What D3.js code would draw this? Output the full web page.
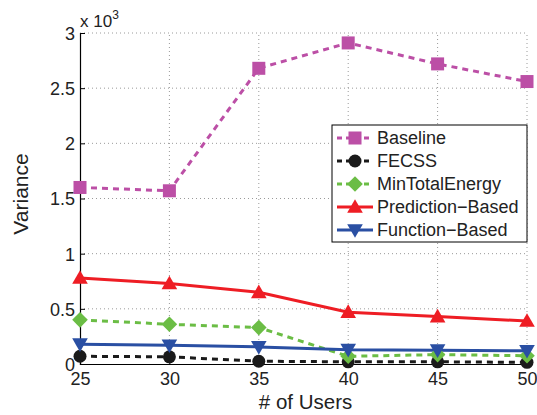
<!DOCTYPE html>
<html><head><meta charset="utf-8">
<script src="https://cdn.jsdelivr.net/npm/d3@7"></script>
<style>body{margin:0;background:#fff;} svg{display:block;font-family:"Liberation Sans",Arial,sans-serif;}</style>
</head><body><svg id="c" width="537" height="415"></svg>
<script>
const users = [25, 30, 35, 40, 45, 50];
const baseline = [1.60, 1.57, 2.68, 2.91, 2.72, 2.56];
const fecss = [0.07, 0.065, 0.025, 0.02, 0.02, 0.015];
const minTotalEnergy = [0.40, 0.36, 0.33, 0.07, 0.085, 0.075];
const predictionBased = [0.78, 0.73, 0.65, 0.47, 0.43, 0.39];
const functionBased = [0.18, 0.17, 0.155, 0.13, 0.125, 0.12];
const yTicks = [0, 0.5, 1, 1.5, 2, 2.5, 3];
const yTickLabels = ["0", "0.5", "1", "1.5", "2", "2.5", "3"];

const series = [
  {name: "Baseline", values: baseline, color: "#BC4FA6", dash: "6,5", marker: "square"},
  {name: "FECSS", values: fecss, color: "#1a1a1a", dash: "6,5", marker: "circle"},
  {name: "MinTotalEnergy", values: minTotalEnergy, color: "#6BBD45", dash: "6,5", marker: "diamond"},
  {name: "Prediction\u2212Based", values: predictionBased, color: "#EE1D24", dash: null, marker: "triangle"},
  {name: "Function\u2212Based", values: functionBased, color: "#2A4FA3", dash: null, marker: "triangleDown"}
];

const svg = d3.select("#c");
const L = 80, R = 527, T = 33, B = 364;
const x = d3.scaleLinear().domain([25, 50]).range([L, R]);
const y = d3.scaleLinear().domain([0, 3]).range([B, T]);

// grid
const g = svg.append("g");
g.selectAll(".gx").data(users.slice(1)).enter().append("line")
  .attr("x1", d => x(d)).attr("x2", d => x(d)).attr("y1", B).attr("y2", T)
  .attr("stroke", "#9a9a9a").attr("stroke-width", 1).attr("stroke-dasharray", "1,3");
g.selectAll(".gy").data(yTicks.slice(1)).enter().append("line")
  .attr("x1", L).attr("x2", R).attr("y1", d => y(d)).attr("y2", d => y(d))
  .attr("stroke", "#9a9a9a").attr("stroke-width", 1).attr("stroke-dasharray", "1,3");

// axes
const xAxis = d3.axisBottom(x).tickValues(users).tickSize(-5).tickPadding(0);
const yAxis = d3.axisLeft(y).tickValues(yTicks).tickFormat((d, i) => yTickLabels[i]).tickSize(-5).tickPadding(5);
const gx = svg.append("g").attr("transform", `translate(0,${B})`).call(xAxis);
const gy = svg.append("g").attr("transform", `translate(${L},0)`).call(yAxis);
[gx, gy].forEach(a => {
  a.select(".domain").attr("stroke", "#000").attr("stroke-width", 1.2);
  a.selectAll(".tick line").attr("stroke", "#000");
  a.selectAll(".tick text").attr("font-size", 18).attr("fill", "#222")
    .attr("font-family", "Liberation Sans, Arial, sans-serif");
});
gx.selectAll(".tick text").attr("y", 21).attr("dy", null);
gy.selectAll(".tick text").attr("dy", "0.36em");

// axis titles
svg.append("text").attr("x", (L + R) / 2 + 2).attr("y", 409).attr("text-anchor", "middle")
  .attr("font-size", 20.5).attr("fill", "#222").text("# of Users");
svg.append("text").attr("transform", "translate(28,194) rotate(-90)").attr("text-anchor", "middle")
  .attr("font-size", 21).attr("fill", "#222").text("Variance");
const ex = svg.append("text").attr("x", 80).attr("y", 27).attr("font-size", 17).attr("fill", "#222");
ex.append("tspan").text("x 10");
ex.append("tspan").attr("font-size", 12).attr("dy", -8).text("3");

function marker(sel, type, color, s) {
  if (type === "square") {
    sel.append("rect").attr("x", -s * 0.5).attr("y", -s * 0.5).attr("width", s).attr("height", s).attr("fill", color);
  } else if (type === "circle") {
    sel.append("circle").attr("r", s * 0.5).attr("fill", color);
  } else if (type === "diamond") {
    const h = s * 0.6;
    sel.append("path").attr("d", `M0,${-h}L${h},0L0,${h}L${-h},0Z`).attr("fill", color);
  } else if (type === "triangle") {
    const h = s * 0.6;
    sel.append("path").attr("d", `M0,${-h}L${h},${h*0.75}L${-h},${h*0.75}Z`).attr("fill", color);
  } else if (type === "triangleDown") {
    const h = s * 0.6;
    sel.append("path").attr("d", `M0,${h}L${h},${-h*0.75}L${-h},${-h*0.75}Z`).attr("fill", color);
  }
}

const line = d3.line().x((d, i) => x(users[i])).y(d => y(d));
series.forEach(s => {
  svg.append("path").datum(s.values).attr("d", line).attr("fill", "none")
    .attr("stroke", s.color).attr("stroke-width", 3)
    .attr("stroke-dasharray", s.dash);
});
series.forEach(s => {
  s.values.forEach((v, i) => {
    const m = svg.append("g").attr("transform", `translate(${x(users[i])},${y(v)})`);
    marker(m, s.marker, s.color, 13);
  });
});

// legend
const lg = svg.append("g");
lg.append("rect").attr("x", 332).attr("y", 125).attr("width", 195).attr("height", 117)
  .attr("fill", "#fff").attr("stroke", "#000").attr("stroke-width", 1);
series.forEach((s, i) => {
  const yy = 138 + i * 23;
  lg.append("line").attr("x1", 337).attr("x2", 373).attr("y1", yy).attr("y2", yy)
    .attr("stroke", s.color).attr("stroke-width", 3).attr("stroke-dasharray", s.dash ? "5,4" : null);
  const m = lg.append("g").attr("transform", `translate(355,${yy})`);
  marker(m, s.marker, s.color, 13);
  lg.append("text").attr("x", 377).attr("y", yy + 6).attr("font-size", 18).attr("fill", "#222")
    .attr("textLength", null).text(s.name);
});
</script></body></html>
